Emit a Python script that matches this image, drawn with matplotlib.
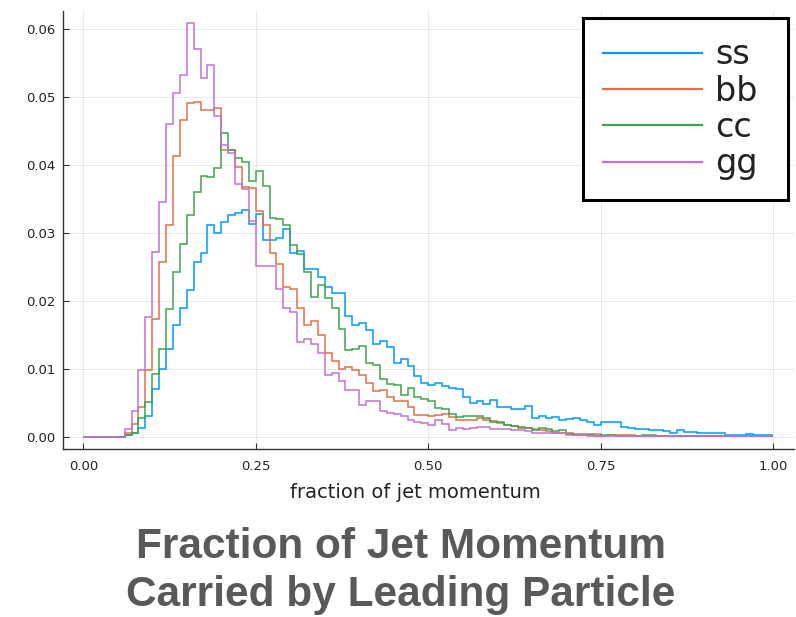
import numpy as np
import matplotlib
matplotlib.use("Agg")
import matplotlib.pyplot as plt
from matplotlib.lines import Line2D

# Histogram binning: 100 equal bins on [0, 1]
bin_lo, bin_hi, n_bins = 0.0, 1.0, 100

# Normalised bin contents (probability per bin) for each flavour
ss = [0, 0, 0, 0, 0, 0, 0.0002, 0.0005, 0.0012, 0.0030,
      0.0070, 0.0099, 0.0129, 0.0164, 0.0190, 0.0216, 0.0258, 0.0270, 0.0312, 0.0300,
      0.0316, 0.0327, 0.0330, 0.0334, 0.0314, 0.0328, 0.0290, 0.0290, 0.0292, 0.0306,
      0.0271, 0.0274, 0.0247, 0.0247, 0.0235, 0.0221, 0.0212, 0.0211, 0.0177, 0.0164,
      0.0168, 0.0157, 0.0136, 0.0141, 0.0132, 0.0108, 0.0115, 0.0104, 0.0089, 0.0079,
      0.0076, 0.0079, 0.0074, 0.0071, 0.0070, 0.0059, 0.0049, 0.0052, 0.0048, 0.0054,
      0.0044, 0.0043, 0.0041, 0.0041, 0.0045, 0.0027, 0.0030, 0.0027, 0.0029, 0.0025,
      0.0026, 0.0027, 0.0024, 0.0021, 0.0017, 0.0021, 0.0022, 0.0022, 0.0014, 0.0013,
      0.0011, 0.0011, 0.0010, 0.0010, 0.0008, 0.0006, 0.0010, 0.0007, 0.0007, 0.0006,
      0.0006, 0.0006, 0.0006, 0.0003, 0.0003, 0.0003, 0.0004, 0.0003, 0.0003, 0.0002]

bb = [0, 0, 0, 0, 0, 0, 0.0005, 0.0018, 0.0043, 0.0098,
      0.0174, 0.0258, 0.0312, 0.0414, 0.0466, 0.0492, 0.0493, 0.0482, 0.0481, 0.0484,
      0.0423, 0.0423, 0.0398, 0.0368, 0.0366, 0.0332, 0.0312, 0.0270, 0.0254, 0.0220,
      0.0218, 0.0189, 0.0165, 0.0170, 0.0150, 0.0123, 0.0111, 0.0099, 0.0103, 0.0098,
      0.0091, 0.0079, 0.0067, 0.0069, 0.0059, 0.0052, 0.0052, 0.0044, 0.0032, 0.0032,
      0.0031, 0.0032, 0.0033, 0.0029, 0.0025, 0.0025, 0.0025, 0.0027, 0.0025, 0.0023,
      0.0020, 0.0017, 0.0015, 0.0013, 0.0013, 0.0011, 0.0010, 0.0008, 0.0006, 0.0006,
      0.0006, 0.0004, 0.0004, 0.0004, 0.0004, 0.0001, 0.0002, 0.0002, 0.0002, 0.0002,
      0.0001, 0.0001, 0.0001, 0.0001, 0.0001, 0.0001, 0.0001, 0.0001, 0.0001, 0.0001,
      0.0001, 0.0001, 0.0001, 0.0001, 0.0001, 0.0001, 0.0001, 0.0001, 0.0001, 0.0001]

cc = [0, 0, 0, 0, 0, 0, 0.0002, 0.0005, 0.0027, 0.0051,
      0.0092, 0.0129, 0.0188, 0.0242, 0.0284, 0.0327, 0.0361, 0.0384, 0.0382, 0.0396,
      0.0448, 0.0423, 0.0410, 0.0405, 0.0377, 0.0391, 0.0370, 0.0322, 0.0320, 0.0312,
      0.0283, 0.0269, 0.0242, 0.0205, 0.0224, 0.0204, 0.0190, 0.0158, 0.0127, 0.0129,
      0.0134, 0.0108, 0.0106, 0.0085, 0.0077, 0.0076, 0.0061, 0.0071, 0.0059, 0.0056,
      0.0052, 0.0042, 0.0041, 0.0034, 0.0029, 0.0030, 0.0030, 0.0030, 0.0028, 0.0022,
      0.0022, 0.0017, 0.0015, 0.0014, 0.0012, 0.0010, 0.0012, 0.0011, 0.0008, 0.0010,
      0.0004, 0.0003, 0.0003, 0.0003, 0.0001, 0.0003, 0.0003, 0.0001, 0.0001, 0.0001,
      0.0001, 0.0002, 0.0002, 0.0001, 0.0001, 0.0001, 0.0001, 0.0001, 0.0001, 0.0001,
      0.0001, 0.0001, 0.0001, 0.0001, 0.0001, 0.0001, 0.0001, 0.0001, 0.0001, 0.0001]

gg = [0, 0, 0, 0, 0, 0, 0.0011, 0.0038, 0.0098, 0.0176,
      0.0272, 0.0346, 0.0461, 0.0507, 0.0533, 0.0609, 0.0571, 0.0528, 0.0548, 0.0472,
      0.0430, 0.0418, 0.0372, 0.0365, 0.0318, 0.0251, 0.0252, 0.0251, 0.0218, 0.0190,
      0.0184, 0.0139, 0.0144, 0.0137, 0.0123, 0.0091, 0.0093, 0.0082, 0.0069, 0.0069,
      0.0047, 0.0052, 0.0053, 0.0037, 0.0035, 0.0033, 0.0030, 0.0025, 0.0021, 0.0020,
      0.0017, 0.0025, 0.0019, 0.0010, 0.0012, 0.0011, 0.0012, 0.0014, 0.0014, 0.0011,
      0.0011, 0.0011, 0.0009, 0.0009, 0.0008, 0.0006, 0.0006, 0.0005, 0.0005, 0.0005,
      0.0003, 0.0003, 0.0003, 0.0001, 0.0001, 0.0001, 0.0001, 0.0001, 0.0001, 0.0001,
      0.0001, 0.0001, 0.0001, 0.0001, 0.0001, 0.0001, 0.0001, 0.0001, 0.0001, 0.0001,
      0.0001, 0.0001, 0.0001, 0.0001, 0.0001, 0.0001, 0.0001, 0.0001, 0.0001, 0.0001]

labels = ["ss", "bb", "cc", "gg"]
colors = ["#009AFA", "#E36F47", "#3EA44E", "#C371D2"]
x_ticks = [0.00, 0.25, 0.50, 0.75, 1.00]
y_ticks = [0.00, 0.01, 0.02, 0.03, 0.04, 0.05, 0.06]
x_label = "fraction of jet momentum"
title = "Fraction of Jet Momentum\nCarried by Leading Particle"

edges = np.linspace(bin_lo, bin_hi, n_bins + 1)
series = [ss, bb, cc, gg]

fig = plt.figure(figsize=(7.96, 6.17), dpi=100)
ax = fig.add_axes([0.0786, 0.2723, 0.9188, 0.7099])

lw = 1.1
for vals, col in zip(series, colors):
    ax.stairs(vals, edges, baseline=None, color=col, linewidth=lw)

# 3 % padding on both axes
ymax = max(max(s) for s in series)
xr = bin_hi - bin_lo
ax.set_xlim(bin_lo - 0.03 * xr, bin_hi + 0.03 * xr)
ax.set_ylim(-0.03 * ymax, 1.03 * ymax)

ax.set_xticks(x_ticks)
ax.set_xticklabels([f"{t:.2f}" for t in x_ticks])
ax.set_yticks(y_ticks)
ax.set_yticklabels([f"{t:.2f}" for t in y_ticks])
ax.tick_params(direction="in", length=4, width=0.8, color="#333333",
               labelsize=9.5, labelcolor="#222222")
ax.tick_params(axis="x", pad=8)
ax.tick_params(axis="y", pad=5)
ax.grid(True, color="black", alpha=0.1, linewidth=0.6)
ax.set_axisbelow(True)
for side in ("top", "right"):
    ax.spines[side].set_visible(False)
for side in ("left", "bottom"):
    ax.spines[side].set_color("#333333")
    ax.spines[side].set_linewidth(1.0)

ax.set_xlabel(x_label, fontsize=14, color="#222222", labelpad=5)
ax.xaxis.set_label_coords(0.482, -0.078)

handles = [Line2D([], [], color=c, linewidth=1.6) for c in colors]
leg = ax.legend(handles, labels,
                loc="upper left",
                bbox_to_anchor=(582.7 / 796, 1 - 18.3 / 617, 205 / 796, 0.0),
                bbox_transform=fig.transFigure,
                mode="expand", borderaxespad=0.0,
                fontsize=24, handlelength=2.97, handletextpad=0.4,
                borderpad=0.6, labelspacing=0.1,
                frameon=True, fancybox=False, framealpha=1.0,
                edgecolor="black")
leg.get_frame().set_linewidth(2.2)
for t in leg.get_texts():
    t.set_color("#222222")

fig.text(0.504, 0.074, title, ha="center", va="center",
         fontsize=30.5, fontweight="bold", color="#595959",
         family="Liberation Sans", linespacing=1.25)

fig.savefig("out.png", dpi=100)
